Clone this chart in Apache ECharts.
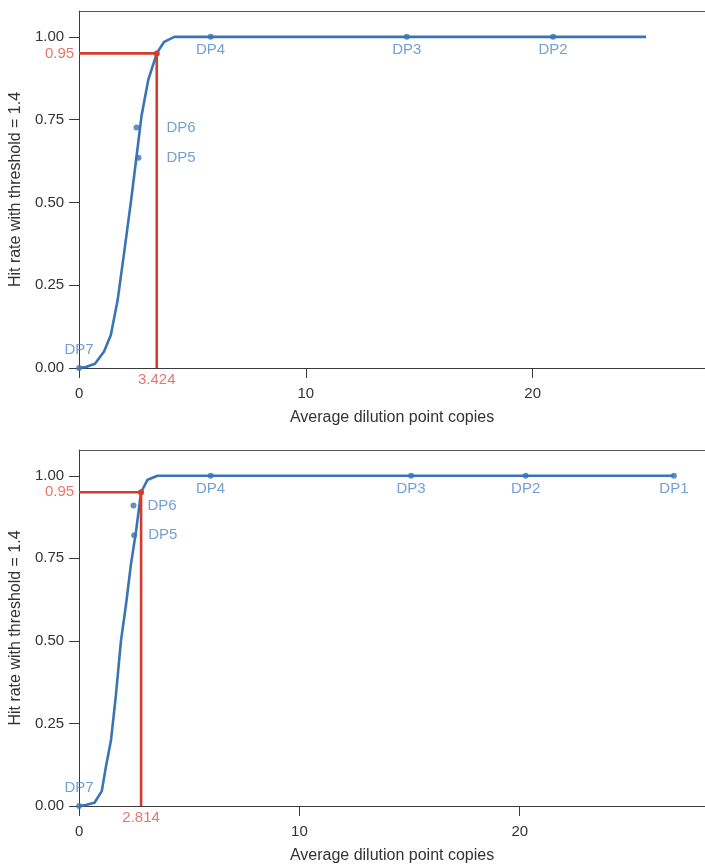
<!DOCTYPE html>
<html>
<head>
<meta charset="utf-8">
<script src="https://cdn.jsdelivr.net/npm/echarts@6/dist/echarts.min.js"></script>
<style>
html,body{margin:0;padding:0;background:#fff;}
#main{width:705px;height:865px;}
</style>
</head>
<body>
<div id="main"></div>
<script>
// ---------- DATA ----------
// Top panel: fitted hit-rate curve
const topCurveX = [0, 0.3, 0.7, 1.1, 1.4, 1.7, 2.0, 2.3, 2.75, 3.05, 3.424, 3.75, 4.2, 25];
const topCurveY = [0, 0.003, 0.013, 0.05, 0.10, 0.205, 0.355, 0.51, 0.76, 0.87, 0.95, 0.985, 1.0, 1.0];
// Top panel: dilution points
const topDPNames = ['DP7', 'DP6', 'DP5', 'DP4', 'DP3', 'DP2'];
const topDPX = [0, 2.53, 2.62, 5.8, 14.45, 20.9];
const topDPY = [0, 0.726, 0.635, 1, 1, 1];
const topLoD = 3.424;

// Bottom panel: fitted hit-rate curve
const botCurveX = [0, 0.3, 0.7, 1.03, 1.22, 1.45, 1.67, 1.9, 2.13, 2.35, 2.58, 2.814, 3.11, 3.56, 27];
const botCurveY = [0, 0.003, 0.01, 0.045, 0.12, 0.20, 0.335, 0.50, 0.61, 0.73, 0.83, 0.95, 0.988, 1.0, 1.0];
const botDPNames = ['DP7', 'DP6', 'DP5', 'DP4', 'DP3', 'DP2', 'DP1'];
const botDPX = [0, 2.47, 2.50, 5.97, 15.07, 20.27, 27.0];
const botDPY = [0, 0.91, 0.82, 1, 1, 1, 1];
const botLoD = 2.814;

const hitThreshold = 0.95;
const xTicks = [0, 10, 20];
const yTicks = [0, 0.25, 0.5, 0.75, 1.0];
const xTitle = 'Average dilution point copies';
const yTitle = 'Hit rate with threshold = 1.4';

// ---------- STYLE ----------
const BLUE = '#3a74b5';
const BLUE_TXT = '#5088c8';
const RED = '#d33b2f';
const RED_TXT = '#de554b';
const AXIS = '#3a3a3a';
const TXT = '#333333';
const FONT = 'Liberation Sans';

const chart = echarts.init(document.getElementById('main'), null, {renderer: 'canvas'});

function zip(xs, ys) { return xs.map((x, i) => [x, ys[i]]); }

const panels = [
  {top: 11, height: 357, xMax: 27.6, curveX: topCurveX, curveY: topCurveY,
   names: topDPNames, dx: topDPX, dy: topDPY, lod: topLoD, d6: 27, d5: 25},
  {top: 450, height: 357, xMax: 28.41, curveX: botCurveX, curveY: botCurveY,
   names: botDPNames, dx: botDPX, dy: botDPY, lod: botLoD, d6: 11, d5: 11}
];

const grid = [], xAxis = [], yAxis = [], series = [];
panels.forEach((p, i) => {
  grid.push({left: 77, right: 0, top: p.top, height: p.height, show: false});
  xAxis.push({
    type: 'value', gridIndex: i, min: 0, max: p.xMax,
    name: xTitle, nameLocation: 'middle', nameGap: 42,
    nameTextStyle: {color: TXT, fontSize: 16, fontFamily: FONT},
    axisLine: {show: true, onZero: false, lineStyle: {color: AXIS, width: 1}},
    axisTick: {show: true, length: 10, customValues: xTicks, lineStyle: {color: AXIS}},
    axisLabel: {show: true, margin: 18, customValues: xTicks, color: TXT, fontSize: 15, fontFamily: FONT},
    splitLine: {show: false}
  });
  xAxis.push({
    type: 'value', gridIndex: i, position: 'top', min: 0, max: p.xMax,
    axisLine: {show: true, onZero: false, lineStyle: {color: '#555', width: 1}},
    axisTick: {show: false}, axisLabel: {show: false}, splitLine: {show: false}
  });
  yAxis.push({
    type: 'value', gridIndex: i, min: 0, max: 1.078,
    name: yTitle, nameLocation: 'middle', nameGap: 55, nameRotate: 90,
    nameTextStyle: {color: TXT, fontSize: 16, fontFamily: FONT},
    axisLine: {show: true, onZero: false, lineStyle: {color: AXIS, width: 1}},
    axisTick: {show: true, length: 10, customValues: yTicks, lineStyle: {color: AXIS}},
    axisLabel: {show: true, margin: 15, customValues: yTicks, color: TXT, fontSize: 15, fontFamily: FONT,
      formatter: v => Number(v).toFixed(2)},
    splitLine: {show: false}
  });

  const xi = i * 2, yi = i;
  // fitted curve
  series.push({
    type: 'line', xAxisIndex: xi, yAxisIndex: yi, data: zip(p.curveX, p.curveY),
    showSymbol: false, smooth: false, lineStyle: {color: BLUE, width: 2.6}, z: 3, silent: true
  });
  // dilution points
  series.push({
    type: 'scatter', xAxisIndex: xi, yAxisIndex: yi, symbolSize: 6, z: 4,
    itemStyle: {color: BLUE},
    data: p.names.map((n, k) => {
      let label;
      if (n === 'DP7') label = {position: 'top', distance: 8};
      else if (n === 'DP6') label = {position: 'right', distance: p.d6};
      else if (n === 'DP5') label = {position: 'right', distance: p.d5};
      else label = {position: 'bottom', distance: 3};
      return {name: n, value: [p.dx[k], p.dy[k]], label: label};
    }),
    label: {show: true, formatter: '{b}', color: BLUE_TXT, fontSize: 15, fontFamily: FONT},
    clip: false
  });
  // 95% hit-rate guide lines
  series.push({
    type: 'line', xAxisIndex: xi, yAxisIndex: yi, z: 5,
    data: [[0, hitThreshold], [p.lod, hitThreshold], [p.lod, 0]],
    showSymbol: true, symbol: 'circle',
    symbolSize: (v, params) => params.dataIndex === 1 ? 6 : 0,
    itemStyle: {color: RED}, lineStyle: {color: RED, width: 2.6}, silent: true
  });
  // red annotation labels
  series.push({
    type: 'scatter', xAxisIndex: xi, yAxisIndex: yi, symbolSize: 0, z: 6, clip: false,
    data: [
      {value: [0, hitThreshold], label: {position: 'left', distance: 5, formatter: hitThreshold.toFixed(2)}},
      {value: [p.lod, 0], label: {position: 'bottom', distance: 4, formatter: p.lod.toFixed(3)}}
    ],
    label: {show: true, color: RED_TXT, fontSize: 15, fontFamily: FONT}
  });
});

chart.setOption({
  animation: false,
  backgroundColor: '#ffffff',
  textStyle: {fontFamily: FONT},
  grid: grid, xAxis: xAxis, yAxis: yAxis, series: series
});
</script>
</body>
</html>
